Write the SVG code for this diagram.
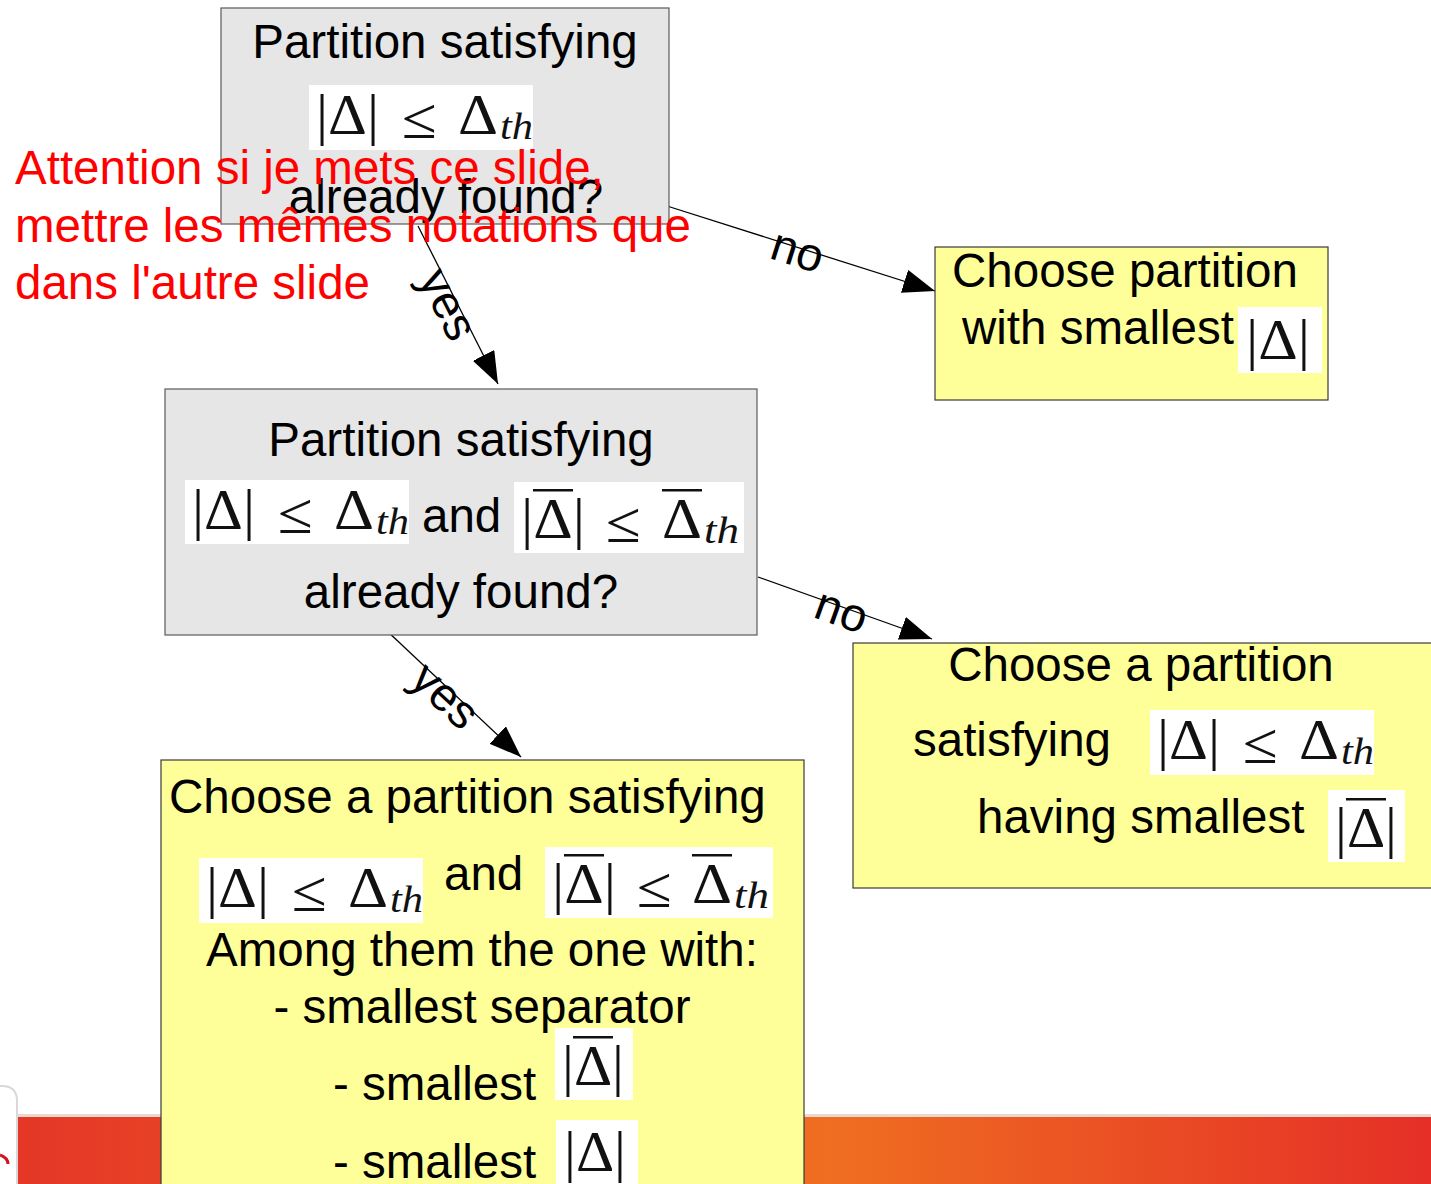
<svg xmlns="http://www.w3.org/2000/svg" width="1431" height="1184" viewBox="0 0 1431 1184">
<style>
.t{font-family:"Liberation Sans",Arial,sans-serif;font-size:47.5px;fill:#000}
.red{font-family:"Liberation Sans",Arial,sans-serif;font-size:47.5px;fill:#ff0000}
.gray{fill:#e6e6e6;stroke:#5a5a5a;stroke-width:1.2}
.yel{fill:#ffff99;stroke:#3a3a3a;stroke-width:1.2}
.mbg{fill:#ffffff}
.m{font-family:"Liberation Serif","DejaVu Serif",serif;font-size:58px;fill:#111}
.s{font-family:"Liberation Serif","DejaVu Serif",serif;font-size:38px;font-style:italic;fill:#111}
.bar{fill:#111}
.c{stroke:#000;stroke-width:1.3;fill:none}
.lbl{font-family:"Liberation Sans",Arial,sans-serif;font-size:47px;fill:#000;text-anchor:middle}
</style>
<defs>
<linearGradient id="band" x1="0" y1="0" x2="1431" y2="0" gradientUnits="userSpaceOnUse">
<stop offset="0" stop-color="#e43627"/>
<stop offset="0.58" stop-color="#ef6e21"/>
<stop offset="1" stop-color="#e52f27"/>
</linearGradient>
<marker id="arr" markerUnits="userSpaceOnUse" markerWidth="34" markerHeight="26" refX="32" refY="12" orient="auto">
<path d="M0,0 L32,12 L0,24 Z" fill="#000"/>
</marker>
</defs>
<rect width="1431" height="1184" fill="#fff"/>
<g id="background">
<rect x="0" y="1114" width="1431" height="3" fill="#e9d8cf"/>
<rect x="0" y="1117" width="1431" height="67" fill="url(#band)"/>
<path d="M-20,1086 L2,1086 Q17,1086 17,1101 L17,1190 L-20,1190 Z" fill="#fff" stroke="#d8d8d8" stroke-width="2"/>
<path d="M0,1155 Q8,1158 8,1164" stroke="#d4101e" stroke-width="3" fill="none"/>
</g>
<g id="connectors">
<line class="c" x1="667" y1="206" x2="935" y2="291" marker-end="url(#arr)"/>
<line class="c" x1="418" y1="226" x2="498" y2="384" marker-end="url(#arr)"/>
<line class="c" x1="758" y1="577" x2="932" y2="639" marker-end="url(#arr)"/>
<line class="c" x1="386" y1="630" x2="521" y2="757" marker-end="url(#arr)"/>
<text class="lbl" x="798" y="250" dy="0.35em" transform="rotate(17.6 798 250)">no</text>
<text class="lbl" x="449" y="304" dy="0.35em" transform="rotate(63.1 449 304)">yes</text>
<text class="lbl" x="842" y="610" dy="0.35em" transform="rotate(19.6 842 610)">no</text>
<text class="lbl" x="446" y="695" dy="0.35em" transform="rotate(43.2 446 695)">yes</text>
</g>
<g id="node-q1">
<rect class="gray" x="221" y="8" width="448" height="216"/>
<text class="t" x="445" y="58" text-anchor="middle">Partition satisfying</text>
<g transform="translate(309,85)">
<rect class="mbg" width="224" height="65"/>
<text class="m" x="7" y="49" textLength="63" lengthAdjust="spacingAndGlyphs">|Δ|</text>
<text class="m" x="93" y="53" textLength="35" lengthAdjust="spacingAndGlyphs">≤</text>
<text class="m" x="149" y="49" textLength="40" lengthAdjust="spacingAndGlyphs">Δ</text>
<text class="s" x="191" y="54" textLength="33" lengthAdjust="spacingAndGlyphs">th</text>
</g>
<text class="t" x="446" y="213" text-anchor="middle">already found?</text>
</g>
<g id="node-note">
<text class="red" x="15" y="184">Attention si je mets ce slide,</text>
<text class="red" x="15" y="242">mettre les mêmes notations que</text>
<text class="red" x="15" y="299">dans l'autre slide</text>
</g>
<g id="node-a1">
<rect class="yel" x="935" y="247" width="393" height="153"/>
<text class="t" x="952" y="287">Choose partition</text>
<text class="t" x="962" y="344">with smallest</text>
<g transform="translate(1238,307)">
<rect class="mbg" width="84" height="66"/>
<text class="m" x="8" y="52" textLength="64" lengthAdjust="spacingAndGlyphs">|Δ|</text>
</g>
</g>
<g id="node-q2">
<rect class="gray" x="165" y="389" width="592" height="246"/>
<text class="t" x="461" y="456" text-anchor="middle">Partition satisfying</text>
<g transform="translate(185,480)">
<rect class="mbg" width="224" height="64"/>
<text class="m" x="7" y="49" textLength="63" lengthAdjust="spacingAndGlyphs">|Δ|</text>
<text class="m" x="93" y="53" textLength="35" lengthAdjust="spacingAndGlyphs">≤</text>
<text class="m" x="149" y="49" textLength="40" lengthAdjust="spacingAndGlyphs">Δ</text>
<text class="s" x="191" y="54" textLength="33" lengthAdjust="spacingAndGlyphs">th</text>
</g>
<text class="t" x="422" y="532">and</text>
<g transform="translate(514,482)">
<rect class="mbg" width="230" height="71"/>
<text class="m" x="7" y="56" textLength="64" lengthAdjust="spacingAndGlyphs">|Δ|</text>
<rect class="bar" x="19" y="7" width="40" height="2.5"/>
<text class="m" x="92" y="60" textLength="35" lengthAdjust="spacingAndGlyphs">≤</text>
<text class="m" x="148" y="56" textLength="40" lengthAdjust="spacingAndGlyphs">Δ</text>
<rect class="bar" x="148" y="7" width="40" height="2.5"/>
<text class="s" x="190" y="61" textLength="35" lengthAdjust="spacingAndGlyphs">th</text>
</g>
<text class="t" x="461" y="608" text-anchor="middle">already found?</text>
</g>
<g id="node-a2">
<rect class="yel" x="853" y="643" width="590" height="245"/>
<text class="t" x="1141" y="681" text-anchor="middle">Choose a partition</text>
<text class="t" x="913" y="756">satisfying</text>
<g transform="translate(1150,710)">
<rect class="mbg" width="224" height="65"/>
<text class="m" x="7" y="49" textLength="63" lengthAdjust="spacingAndGlyphs">|Δ|</text>
<text class="m" x="93" y="53" textLength="35" lengthAdjust="spacingAndGlyphs">≤</text>
<text class="m" x="149" y="49" textLength="40" lengthAdjust="spacingAndGlyphs">Δ</text>
<text class="s" x="191" y="54" textLength="33" lengthAdjust="spacingAndGlyphs">th</text>
</g>
<text class="t" x="977" y="833">having smallest</text>
<g transform="translate(1328,790)">
<rect class="mbg" width="77" height="72"/>
<text class="m" x="7" y="57" textLength="62" lengthAdjust="spacingAndGlyphs">|Δ|</text>
<rect class="bar" x="18" y="8" width="40" height="2.5"/>
</g>
</g>
<g id="node-a3">
<rect class="yel" x="161" y="760" width="643" height="440"/>
<text class="t" x="169" y="813">Choose a partition satisfying</text>
<g transform="translate(199,858)">
<rect class="mbg" width="224" height="65"/>
<text class="m" x="7" y="49" textLength="63" lengthAdjust="spacingAndGlyphs">|Δ|</text>
<text class="m" x="93" y="53" textLength="35" lengthAdjust="spacingAndGlyphs">≤</text>
<text class="m" x="149" y="49" textLength="40" lengthAdjust="spacingAndGlyphs">Δ</text>
<text class="s" x="191" y="54" textLength="33" lengthAdjust="spacingAndGlyphs">th</text>
</g>
<text class="t" x="444" y="890">and</text>
<g transform="translate(545,847)">
<rect class="mbg" width="228" height="71"/>
<text class="m" x="7" y="56" textLength="64" lengthAdjust="spacingAndGlyphs">|Δ|</text>
<rect class="bar" x="19" y="7" width="40" height="2.5"/>
<text class="m" x="92" y="60" textLength="35" lengthAdjust="spacingAndGlyphs">≤</text>
<text class="m" x="147" y="56" textLength="40" lengthAdjust="spacingAndGlyphs">Δ</text>
<rect class="bar" x="147" y="7" width="40" height="2.5"/>
<text class="s" x="189" y="61" textLength="35" lengthAdjust="spacingAndGlyphs">th</text>
</g>
<text class="t" x="482" y="966" text-anchor="middle">Among them the one with:</text>
<text class="t" x="482" y="1023" text-anchor="middle">- smallest separator</text>
<text class="t" x="333" y="1100">- smallest</text>
<g transform="translate(555,1028)">
<rect class="mbg" width="78" height="72"/>
<text class="m" x="7" y="57" textLength="62" lengthAdjust="spacingAndGlyphs">|Δ|</text>
<rect class="bar" x="18" y="8" width="40" height="2.5"/>
</g>
<text class="t" x="333" y="1178">- smallest</text>
<g transform="translate(556,1120)">
<rect class="mbg" width="82" height="64"/>
<text class="m" x="8" y="51" textLength="62" lengthAdjust="spacingAndGlyphs">|Δ|</text>
</g>
</g>
</svg>
